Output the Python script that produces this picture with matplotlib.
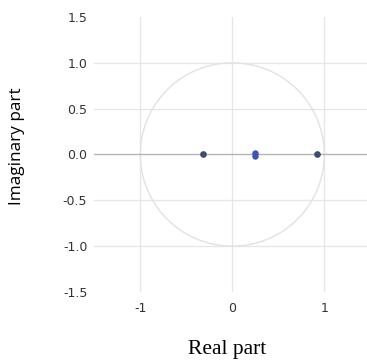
import numpy as np
import matplotlib.pyplot as plt

# pole / zero locations
re_dark = [-0.318, 0.92]
im_dark = [0.0, 0.0]
re_blue = [0.245, 0.245]
im_blue = [0.018, -0.012]

xticks = [-1, 0, 1]
yticks = [-1.5, -1.0, -0.5, 0.0, 0.5, 1.0, 1.5]

fig = plt.figure(figsize=(3.67, 3.63), dpi=100)
ax = fig.add_axes([0.257, 0.1956, 0.752, 0.7576])

# unit circle
th = np.linspace(0, 2 * np.pi, 400)
ax.plot(np.cos(th), np.sin(th), color="#e2e2e2", lw=1.0, zorder=1)

for x in xticks:
    ax.axvline(x, color="#e6e6e6", lw=0.9, zorder=0)
for y in [-1.0, -0.5, 0.5, 1.0]:
    ax.axhline(y, color="#e6e6e6", lw=0.9, zorder=0)
ax.axhline(0, color="#b4b4b4", lw=1.0, zorder=1)

ax.plot(re_dark, im_dark, "o", color="#3d4d6e", ms=3.8, zorder=3)
ax.plot(re_blue, im_blue, "o", color="#3b56b4", ms=3.6, zorder=3)

ax.set_xlim(-1.5, 1.5)
ax.set_ylim(-1.5, 1.5)
ax.set_xticks(xticks)
ax.set_xticklabels(["-1", "0", "1"])
ax.set_yticks(yticks)
ax.set_yticklabels(["%.1f" % v for v in yticks])
ax.tick_params(length=0, labelsize=9, labelcolor="#333333")
ax.tick_params(axis="y", pad=5)
ax.tick_params(axis="x", pad=7)
for s in ax.spines.values():
    s.set_visible(False)

fig.text(0.62, 0.036, "Real part", family="Liberation Serif", fontsize=15.5,
         ha="center", va="center", color="black")
fig.text(0.046, 0.596, "Imaginary part", family="Open Sans", fontsize=12.3,
         ha="center", va="center", rotation=90, color="black")

fig.savefig("out.png", dpi=100)
